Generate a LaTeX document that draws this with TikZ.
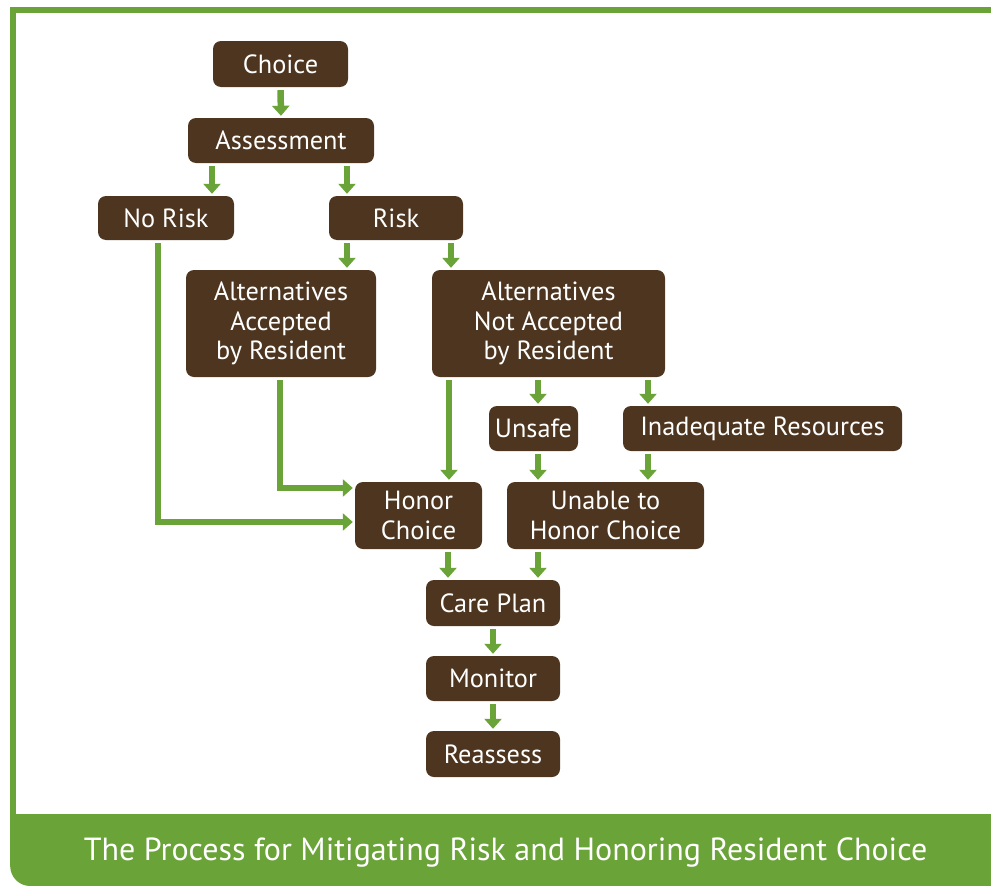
\documentclass[tikz,border=0pt]{standalone}
\usepackage{fontspec}
\setmainfont{PT Sans}
\usetikzlibrary{arrows.meta}

\definecolor{leaf}{RGB}{106,163,56}
\definecolor{bark}{RGB}{77,53,31}

\tikzset{
  box/.style={fill=bark, rounded corners=8, text=white, align=center, inner sep=0pt,
    font=\fontsize{26.3}{29.5}\selectfont},
  flow/.style={draw=leaf, line width=6.5pt, -{Triangle[width=17pt,length=10pt]},
    shorten <=3pt, shorten >=2pt}
}

\begin{document}
\begin{tikzpicture}[x=1pt, y=-1pt]
			\useasboundingbox (0,0) rectangle (991,886);

			% frame and title band
			\draw [leaf, line width=5.5pt] (995,9.8) -- (13,9.8) -- (13,820);
			\fill [leaf] (10.2,814) [rounded corners=20] -- (10.2,886) [sharp corners] -- (995,886) -- (995,814) -- cycle;
			\node (title) [text=white, font=\fontsize{32}{36}\selectfont, anchor=base] at (505.5,860) {The Process for Mitigating Risk and Honoring Resident Choice};

			\node (choice)[box, minimum width=135, minimum height=46] at (280.5,64) {Choice};
			\node (assess)[box, minimum width=186, minimum height=45] at (281,140.5) {Assessment};
			\node (norisk)[box, minimum width=136, minimum height=44] at (166,218) {No Risk};
			\node (risk)[box, minimum width=134, minimum height=44] at (396,218) {Risk};
			\node (altacc)[box, minimum width=190, minimum height=107] at (281,323.5) {Alternatives\\Accepted\\by Resident};
			\node (altnot)[box, minimum width=233, minimum height=107] at (548.5,323.5) {Alternatives\\Not Accepted\\by Resident};
			\node (unsafe)[box, minimum width=89, minimum height=45] at (533.5,428.5) {Unsafe};
			\node (inadeq)[box, minimum width=279, minimum height=45] at (762.5,428.5) {Inadequate Resources};
			\node (honor)[box, minimum width=127, minimum height=67] at (418.5,515.5) {Honor\\Choice};
			\node (unable)[box, minimum width=197, minimum height=67] at (605.5,515.5) {Unable to\\Honor Choice};
			\node (care)[box, minimum width=134, minimum height=46] at (493,603) {Care Plan};
			\node (monitor)[box, minimum width=134, minimum height=45] at (493,678.5) {Monitor};
			\node (reassess)[box, minimum width=134, minimum height=46] at (493,754) {Reassess};

			\draw [flow](choice.south) -- (assess.north);
			\draw [flow]([xshift=-69]assess.south) -- ([xshift=46]norisk.north);
			\draw [flow]([xshift=66]assess.south) -- ([xshift=-49]risk.north);
			\draw [flow]([xshift=-49]risk.south) -- ([xshift=66]altacc.north);
			\draw [flow]([xshift=55]risk.south) -- ([xshift=-97.5]altnot.north);
			\draw [flow]([xshift=-10.5]altnot.south) -- ([xshift=4.5]unsafe.north);
			\draw [flow]([xshift=99.5]altnot.south) -- ([xshift=-114.5]inadeq.north);
			\draw [flow]([xshift=4.5]unsafe.south) -- ([xshift=-67.5]unable.north);
			\draw [flow]([xshift=-114.5]inadeq.south) -- ([xshift=42.5]unable.north);
			\draw [flow]([xshift=29.5]honor.south) -- ([xshift=-45]care.north);
			\draw [flow]([xshift=-67.5]unable.south) -- ([xshift=45]care.north);
			\draw [flow](care.south) -- (monitor.north);
			\draw [flow](monitor.south) -- (reassess.north);

			% long connectors into Honor Choice
			\draw [flow]([xshift=-8]norisk.south) |- ([yshift=-6.5]honor.west);
			\draw [flow]([xshift=-1]altacc.south) |- ([yshift=27.5]honor.west);
			\draw [flow]([xshift=-99.5]altnot.south) -- ([xshift=30.5]honor.north);
		\end{tikzpicture}
\end{document}
